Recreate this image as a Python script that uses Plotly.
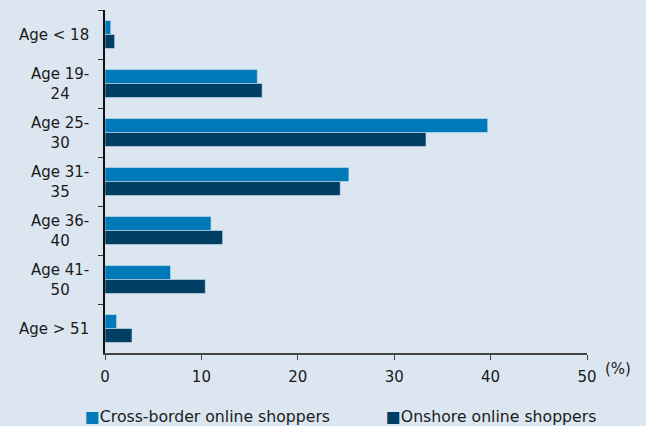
import plotly.graph_objects as go

categories = ["Age < 18", "Age 19-24", "Age 25-30", "Age 31-35", "Age 36-40", "Age 41-50", "Age > 51"]
category_labels = ["Age < 18", "Age 19-<br>24", "Age 25-<br>30", "Age 31-<br>35", "Age 36-<br>40", "Age 41-<br>50", "Age > 51"]
cross_border = [0.6, 15.8, 39.7, 25.3, 11.0, 6.8, 1.2]
onshore = [1.0, 16.3, 33.3, 24.4, 12.2, 10.4, 2.8]
x_ticks = [0, 10, 20, 30, 40, 50]
series_names = ["Cross-border online shoppers", "Onshore online shoppers"]
series_colors = ["#0079b8", "#003f63"]

font = "DejaVu Sans, Verdana, sans-serif"
bg = "#dce6f1"
W, H = 646, 426
L, R, T, B = 105, 59, 10, 73
pw, ph = W - L - R, H - T - B

def px_x(p):
    return (p - L) / pw

def px_y(p):
    return (H - B - p) / ph

fig = go.Figure()
for name, vals, col in zip(series_names, [cross_border, onshore], series_colors):
    fig.add_trace(go.Bar(y=categories, x=vals, orientation="h", name=name, showlegend=False,
                         marker=dict(color=col, line=dict(color="rgba(200,225,245,0.6)", width=1))))

fig.update_layout(
    width=W, height=H,
    paper_bgcolor=bg, plot_bgcolor=bg,
    margin=dict(l=L, r=R, t=T, b=B),
    barmode="group", bargap=0.43, bargroupgap=0,
    font=dict(family=font, size=15, color="#1a1a1a"),
    showlegend=False,
    xaxis=dict(range=[0, 50], tickvals=x_ticks, showgrid=False, zeroline=False,
               showline=True, linecolor="#444", linewidth=1.5, ticks="outside", ticklen=5,
               tickcolor="#444", tickfont=dict(size=15), ticklabelstandoff=4),
    yaxis=dict(type="category", categoryorder="array", categoryarray=categories,
               autorange="reversed", showgrid=False, zeroline=False, showline=True,
               linecolor="#111", linewidth=1.5, ticks="outside", ticklen=5, tickcolor="#333",
               tickson="boundaries", showticklabels=False),
)

for cat, lab in zip(categories, category_labels):
    fig.add_annotation(text=lab, x=px_x(91), xref="paper", y=cat, yref="y",
                       xanchor="right", yanchor="middle", align="center", showarrow=False,
                       font=dict(size=15))

fig.add_annotation(text="(%)", x=px_x(603), xref="paper", y=px_y(369), yref="paper",
                   xanchor="left", yanchor="middle", showarrow=False, font=dict(size=15))

legend_x = [83, 384]
for name, col, lx in zip(series_names, series_colors, legend_x):
    fig.add_annotation(text=f"<span style='color:{col}'>■</span>{name}", x=px_x(lx), xref="paper",
                       y=px_y(416), yref="paper", xanchor="left", yanchor="middle",
                       showarrow=False, font=dict(size=15.7))

fig.write_html("out.html", config={"displayModeBar": False},
               post_script="document.body.style.margin='0';document.body.style.overflow='hidden';")
